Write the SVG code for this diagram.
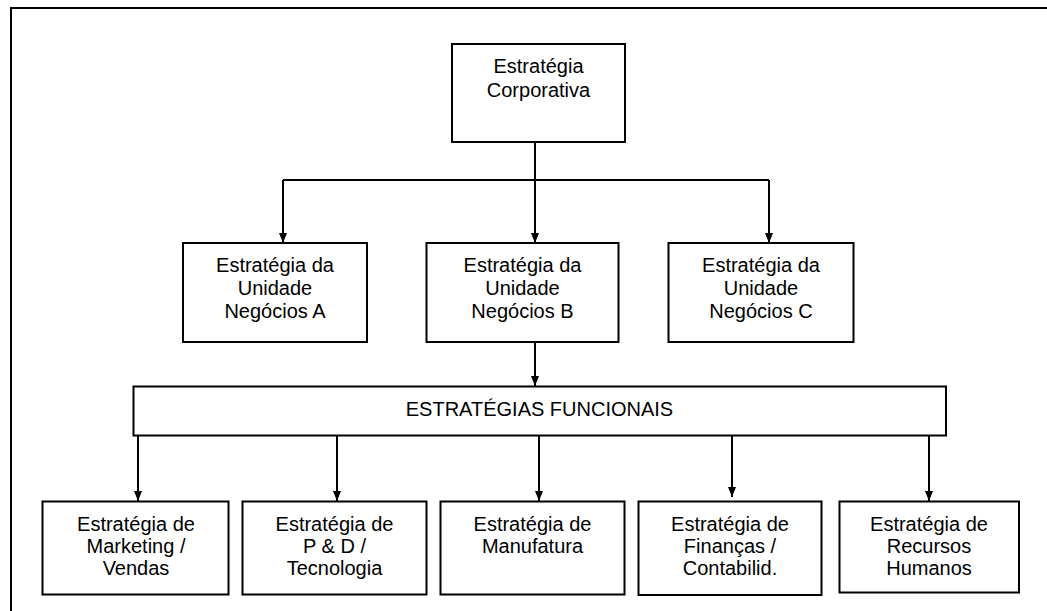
<svg xmlns="http://www.w3.org/2000/svg" width="1047" height="611" viewBox="0 0 1047 611">
<defs>
<style>
.box{fill:#fff;stroke:#000;stroke-width:2}
.t{font-family:"Liberation Sans",Arial,sans-serif;font-size:20px;fill:#000;text-anchor:middle}
.c{fill:none;stroke:#000;stroke-width:2}
</style>
<marker id="ah" markerUnits="userSpaceOnUse" markerWidth="10" markerHeight="10" viewBox="0 0 10 10" refX="10" refY="5" orient="auto">
<path d="M0,1 L10,5 L0,9 Z" fill="#000"/>
</marker>
</defs>
<rect width="1047" height="611" fill="#fff"/>
<path d="M11,611 V8 H1047" fill="none" stroke="#000" stroke-width="2"/>
<g id="connectors">
<path class="c" d="M535,142 V180"/>
<path class="c" d="M283,180 H769"/>
<path class="c" d="M283,180 V243" marker-end="url(#ah)"/>
<path class="c" d="M535,180 V243" marker-end="url(#ah)"/>
<path class="c" d="M769,180 V243" marker-end="url(#ah)"/>
<path class="c" d="M535,342 V386" marker-end="url(#ah)"/>
<path class="c" d="M138,436 V501" marker-end="url(#ah)"/>
<path class="c" d="M337,436 V501" marker-end="url(#ah)"/>
<path class="c" d="M539,436 V501" marker-end="url(#ah)"/>
<path class="c" d="M732,436 V497" marker-end="url(#ah)"/>
<path class="c" d="M929,436 V501" marker-end="url(#ah)"/>
</g>
<g id="corp">
<rect class="box" x="452" y="44" width="173" height="98"/>
<text class="t" x="538.5" y="73">Estratégia</text>
<text class="t" x="538.5" y="96.5">Corporativa</text>
</g>
<g id="unA">
<rect class="box" x="183" y="243" width="184" height="99"/>
<text class="t" x="275" y="271.5">Estratégia da</text>
<text class="t" x="275" y="294.8">Unidade</text>
<text class="t" x="275" y="318">Negócios A</text>
</g>
<g id="unB">
<rect class="box" x="426.5" y="243" width="192" height="99"/>
<text class="t" x="522.5" y="271.5">Estratégia da</text>
<text class="t" x="522.5" y="294.8">Unidade</text>
<text class="t" x="522.5" y="318">Negócios B</text>
</g>
<g id="unC">
<rect class="box" x="668.5" y="243" width="185" height="99"/>
<text class="t" x="761" y="271.5">Estratégia da</text>
<text class="t" x="761" y="294.8">Unidade</text>
<text class="t" x="761" y="318">Negócios C</text>
</g>
<g id="funcionais">
<rect class="box" x="133.5" y="386.5" width="812.5" height="49"/>
<text class="t" x="539.5" y="416">ESTRATÉGIAS FUNCIONAIS</text>
</g>
<g id="marketing">
<rect class="box" x="42.5" y="501.5" width="186" height="93"/>
<text class="t" x="136" y="531">Estratégia de</text>
<text class="t" x="136" y="553">Marketing /</text>
<text class="t" x="136" y="575">Vendas</text>
</g>
<g id="ped">
<rect class="box" x="242.5" y="501.5" width="184" height="93"/>
<text class="t" x="334.5" y="531">Estratégia de</text>
<text class="t" x="334.5" y="553">P &amp; D /</text>
<text class="t" x="334.5" y="575">Tecnologia</text>
</g>
<g id="manufatura">
<rect class="box" x="440.5" y="501.5" width="184" height="93"/>
<text class="t" x="532.5" y="531">Estratégia de</text>
<text class="t" x="532.5" y="553">Manufatura</text>
</g>
<g id="financas">
<rect class="box" x="638.5" y="501.5" width="183" height="93.5"/>
<text class="t" x="730" y="531">Estratégia de</text>
<text class="t" x="730" y="553">Finanças /</text>
<text class="t" x="730" y="575">Contabilid.</text>
</g>
<g id="rh">
<rect class="box" x="839.5" y="501.5" width="179.5" height="91"/>
<text class="t" x="929" y="531">Estratégia de</text>
<text class="t" x="929" y="553">Recursos</text>
<text class="t" x="929" y="575">Humanos</text>
</g>
</svg>
